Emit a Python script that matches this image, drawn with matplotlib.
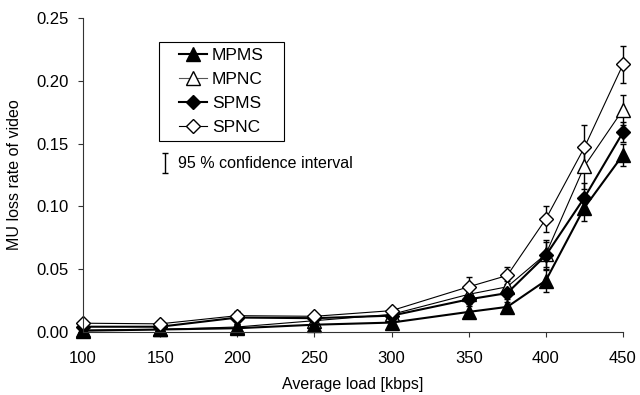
import matplotlib
matplotlib.use("Agg")
import matplotlib.pyplot as plt
from matplotlib.lines import Line2D
from matplotlib.patches import Rectangle

plt.rcParams['font.family'] = ['Liberation Sans', 'DejaVu Sans']

# Average load in kbps
load = [100, 150, 200, 250, 300, 350, 375, 400, 425, 450]

# MU loss rate of video per scheme
mpms = [0.001, 0.002, 0.003, 0.0058, 0.0075, 0.016, 0.020, 0.041, 0.099, 0.141]
mpnc = [0.0015, 0.002, 0.004, 0.009, 0.014, 0.030, 0.036, 0.062, 0.132, 0.177]
spms = [0.0042, 0.0042, 0.0115, 0.011, 0.013, 0.026, 0.031, 0.061, 0.107, 0.159]
spnc = [0.007, 0.0065, 0.013, 0.0125, 0.017, 0.036, 0.045, 0.090, 0.147, 0.213]

# Half-widths of the 95 % confidence intervals
mpms_ci = [0.001, 0.001, 0.001, 0.002, 0.002, 0.005, 0.004, 0.009, 0.011, 0.009]
mpnc_ci = [0.001, 0.001, 0.002, 0.002, 0.002, 0.005, 0.005, 0.010, 0.018, 0.012]
spms_ci = [0.001, 0.001, 0.005, 0.002, 0.002, 0.004, 0.005, 0.012, 0.012, 0.008]
spnc_ci = [0.001, 0.001, 0.002, 0.002, 0.002, 0.008, 0.007, 0.010, 0.018, 0.015]

xticks = [100, 150, 200, 250, 300, 350, 400, 450]
yticks = [0.00, 0.05, 0.10, 0.15, 0.20, 0.25]

fig = plt.figure(figsize=(6.4, 3.95), dpi=100)
ax = fig.add_axes([0.1297, 0.1595, 0.8437, 0.7949])

THICK, THIN = 1.5, 0.8
series = [
    ("MPNC", mpnc, mpnc_ci, '^', 'white', THIN, 9.5),
    ("SPMS", spms, spms_ci, 'D', 'black', THICK, 7.5),
    ("MPMS", mpms, mpms_ci, '^', 'black', THICK, 9.5),
    ("SPNC", spnc, spnc_ci, 'D', 'white', THIN, 7.5),
]
for name, vals, ci, mk, fc, lw, ms in series:
    eb = ax.errorbar(load, vals, yerr=ci, color='black', lw=lw, marker=mk,
                     markerfacecolor=fc, markeredgecolor='black',
                     markeredgewidth=1.0, markersize=ms,
                     ecolor='black', elinewidth=1.0, capsize=2.5,
                     capthick=1.0, clip_on=False)
    for art in eb.lines[1]:
        art.set_clip_on(False)
    for art in eb.lines[2]:
        art.set_clip_on(False)

ax.set_xlim(100, 450)
ax.set_ylim(0, 0.25)
ax.set_xticks(xticks)
ax.set_yticks(yticks)
ax.set_yticklabels([f"{v:.2f}" for v in yticks])
for s in ('top', 'right'):
    ax.spines[s].set_visible(False)
for s in ('left', 'bottom'):
    ax.spines[s].set_linewidth(0.8)
    ax.spines[s].set_color('#333333')
ax.tick_params(axis='both', direction='out', length=3.5, width=0.8,
               colors='#333333', labelcolor='black', labelsize=12)
ax.tick_params(axis='x', pad=10)
ax.tick_params(axis='y', pad=7)
ax.set_xlabel("Average load [kbps]", fontsize=11.5, labelpad=8)
ax.set_ylabel("MU loss rate of video", fontsize=11.5, labelpad=10)

handles = [
    Line2D([], [], color='black', lw=THICK, marker='^', markerfacecolor='black',
           markeredgecolor='black', markersize=9.5),
    Line2D([], [], color='#555555', lw=THIN, marker='^', markerfacecolor='white',
           markeredgecolor='black', markersize=9.5),
    Line2D([], [], color='black', lw=THICK, marker='D', markerfacecolor='black',
           markeredgecolor='black', markersize=7.5),
    Line2D([], [], color='black', lw=THIN, marker='D', markerfacecolor='white',
           markeredgecolor='black', markersize=7.5),
]
leg = ax.legend(handles, ["MPMS", "MPNC", "SPMS", "SPNC"],
                loc='center', bbox_to_anchor=(0.256, 0.766),
                fontsize=12.5, frameon=False, handlelength=1.6,
                handletextpad=0.3, labelspacing=0.5, borderpad=0,
                borderaxespad=0)

# Legend frame
ax.add_patch(Rectangle((0.140, 0.608), 0.232, 0.315, transform=ax.transAxes,
                       facecolor='none', edgecolor='black', lw=0.8,
                       clip_on=False, zorder=5))

# Confidence interval key
ax.errorbar([0.152], [0.538], yerr=[[0.032], [0.032]], transform=ax.transAxes,
            fmt='none', ecolor='black', elinewidth=1.0, capsize=2.5,
            clip_on=False)
ax.text(0.176, 0.538, "95 % confidence interval", transform=ax.transAxes,
        fontsize=11.5, va='center', ha='left')

fig.savefig("out.png", dpi=100)
